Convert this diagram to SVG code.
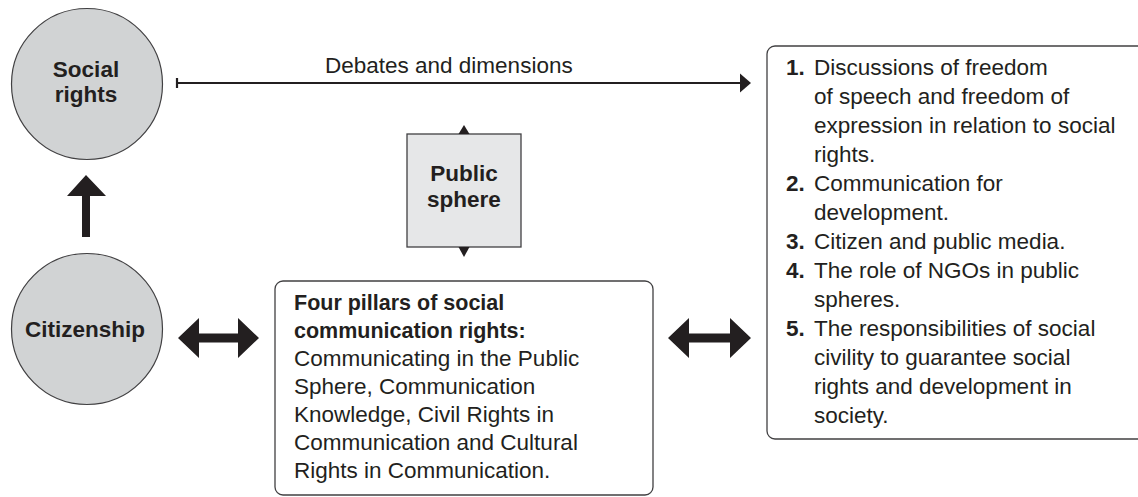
<svg xmlns="http://www.w3.org/2000/svg" width="1138" height="497" viewBox="0 0 1138 497">
<style>
  .t { font-family: "Liberation Sans", Arial, sans-serif; font-size: 22.5px; fill: #231f20; }
  .b { font-family: "Liberation Sans", Arial, sans-serif; font-weight: bold; font-size: 22.5px; fill: #231f20; }
  .hb { font-family: "Liberation Sans", Arial, sans-serif; font-weight: bold; font-size: 21.5px; fill: #231f20; }
  .circ { fill: #d1d3d4; stroke: #414042; stroke-width: 1.2; }
  .box { fill: #ffffff; stroke: #414042; stroke-width: 1.3; }
  .sq { fill: #e6e7e8; stroke: #414042; stroke-width: 1.3; }
  .ar { fill: #231f20; stroke: none; }
  .ln { stroke: #231f20; stroke-width: 2.2; fill: none; }
</style>
<rect width="1138" height="497" fill="#ffffff"/>

<g id="social-rights">
  <circle class="circ" cx="87" cy="84" r="75.5"/>
  <text class="b" x="86" y="77" text-anchor="middle">Social</text>
  <text class="b" x="86" y="102" text-anchor="middle">rights</text>
</g>

<g id="citizenship">
  <circle class="circ" cx="87" cy="329" r="75.5"/>
  <text class="b" x="85" y="337" text-anchor="middle">Citizenship</text>
</g>

<g id="public-sphere">
  <rect class="sq" x="407" y="134" width="114" height="113"/>
  <text class="b" x="464" y="181" text-anchor="middle">Public</text>
  <text class="b" x="464" y="207" text-anchor="middle">sphere</text>
</g>

<g id="four-pillars">
  <rect class="box" x="275" y="281" width="378" height="214" rx="8" ry="8"/>
  <text class="hb" x="294" y="310">Four pillars of social</text>
  <text class="hb" x="294" y="338">communication rights:</text>
  <text class="t" x="294" y="366">Communicating in the Public</text>
  <text class="t" x="294" y="394">Sphere, Communication</text>
  <text class="t" x="294" y="422">Knowledge, Civil Rights in</text>
  <text class="t" x="294" y="450">Communication and Cultural</text>
  <text class="t" x="294" y="478">Rights in Communication.</text>
</g>

<g id="debates-list">
  <rect class="box" x="767" y="46" width="380" height="393" rx="8" ry="8"/>
  <text class="b" x="786" y="75">1.</text>
  <text class="t" x="814" y="75">Discussions of freedom</text>
  <text class="t" x="814" y="104">of speech and freedom of</text>
  <text class="t" x="814" y="133">expression in relation to social</text>
  <text class="t" x="814" y="162">rights.</text>
  <text class="b" x="786" y="191">2.</text>
  <text class="t" x="814" y="191">Communication for</text>
  <text class="t" x="814" y="220">development.</text>
  <text class="b" x="786" y="249">3.</text>
  <text class="t" x="814" y="249">Citizen and public media.</text>
  <text class="b" x="786" y="278">4.</text>
  <text class="t" x="814" y="278">The role of NGOs in public</text>
  <text class="t" x="814" y="307">spheres.</text>
  <text class="b" x="786" y="336">5.</text>
  <text class="t" x="814" y="336">The responsibilities of social</text>
  <text class="t" x="814" y="365">civility to guarantee social</text>
  <text class="t" x="814" y="394">rights and development in</text>
  <text class="t" x="814" y="423">society.</text>
</g>

<g id="connectors">
  <line class="ln" x1="177" y1="83" x2="742" y2="83"/>
  <line class="ln" x1="177" y1="78" x2="177" y2="88"/>
  <polygon class="ar" points="740,73.5 751,83 740,92.5"/>
  <text class="t" x="325" y="73">Debates and dimensions</text>

  <polygon class="ar" points="82,237 82,196 67,196 86,175 106,196 90,196 90,237"/>

  <polygon class="ar" points="458.5,134 464,125 469.5,134"/>
  <polygon class="ar" points="458.5,247 464,257 469.5,247"/>

  <polygon class="ar" points="178,338 199,318 199,333.5 238,333.5 238,318 259,338 238,358 238,342.5 199,342.5 199,358"/>

  <polygon class="ar" points="668,338 689,318 689,333.5 730,333.5 730,318 751,338 730,358 730,342.5 689,342.5 689,358"/>
</g>
</svg>
